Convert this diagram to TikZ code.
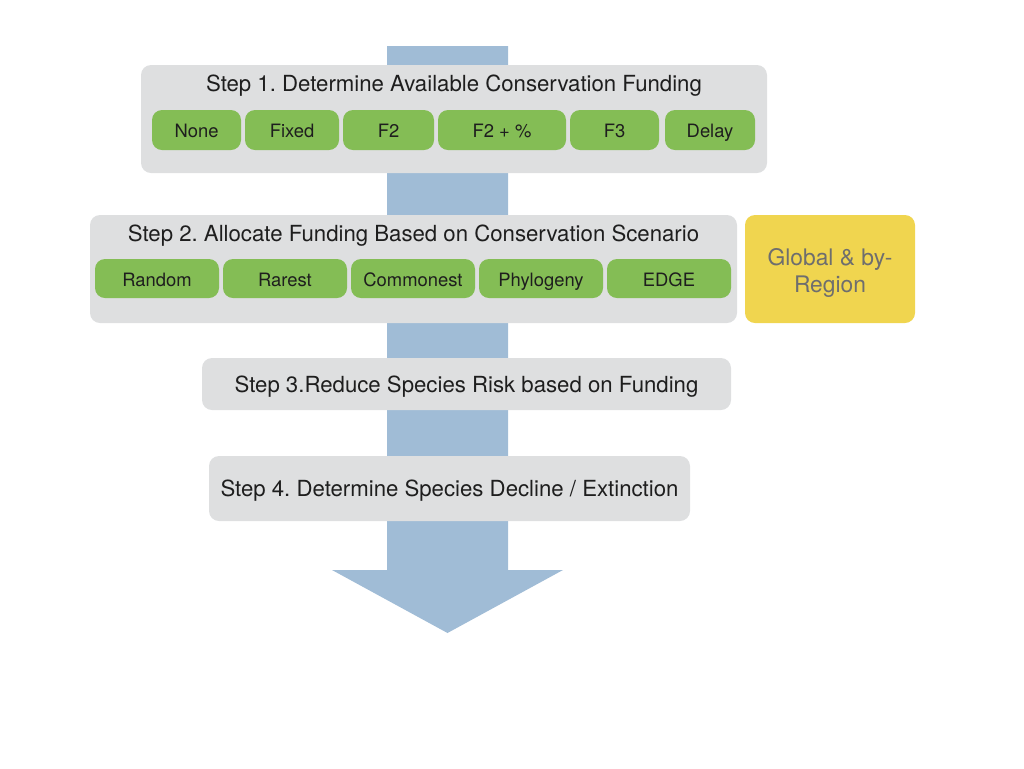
\documentclass[tikz,border=0pt]{standalone}
\usepackage{fontspec}
\setmainfont{TeX Gyre Heros}
\usepackage{tikz}
\usetikzlibrary{calc}
\frenchspacing

\definecolor{boxgray}{HTML}{DEDFE0}
\definecolor{pillgreen}{HTML}{84BD55}
\definecolor{flowblue}{HTML}{A0BCD6}
\definecolor{scopeyellow}{HTML}{F0D54F}
\definecolor{textdark}{HTML}{1E1E1E}
\definecolor{textgray}{HTML}{6E6E6E}

\begin{document}
\begin{tikzpicture}[x=0.5pt,y=-0.5pt,
	stepbox/.style={fill=boxgray,rounded corners=5pt,inner sep=0pt},
	steptitle/.style={font=\fontsize{11.1}{12}\selectfont,text=textdark,inner sep=0pt,
		text height=10.5pt,text depth=2.4pt},
	pill/.style={fill=pillgreen,rounded corners=5pt,inner sep=0pt,minimum height=20pt,
		font=\fontsize{9.2}{10}\selectfont,text=textdark,text height=9.6pt,text depth=2pt}]
	\useasboundingbox (0,0) rectangle (1024,768);
	% big flow arrow behind the steps
	\fill[flowblue] (387,46) -- (508,46) -- (508,570) -- (563,570) -- (447.5,633)
		-- (332,570) -- (387,570) -- cycle;
	% step 1
	\node (step1) [stepbox,minimum width=313pt,minimum height=54pt] at (454,119) {};
	\node (step1title) [steptitle] at (454,83) {Step 1. Determine Available Conservation Funding};
	\node (none) [pill,minimum width=44.5pt] at (196.5,130) {None};
	\node (fixed) [pill,minimum width=47pt] at (292,130) {Fixed};
	\node (ftwo) [pill,minimum width=45.5pt] at (388.5,130) {F2};
	\node (ftwopct) [pill,minimum width=64pt] at (502,130) {F2 + \%};
	\node (fthree) [pill,minimum width=44.5pt] at (614.5,130) {F3};
	\node (delay) [pill,minimum width=45pt] at (710,130) {Delay};
	% step 2
	\node (step2) [stepbox,minimum width=323.5pt,minimum height=54pt] at (413.5,269) {};
	\node (step2title) [steptitle] at (413.5,233) {Step 2. Allocate Funding Based on Conservation Scenario};
	\node (random) [pill,minimum width=62pt,minimum height=19.5pt] at (157,278.5) {Random};
	\node (rarest) [pill,minimum width=62pt,minimum height=19.5pt] at (285,278.5) {Rarest};
	\node (commonest) [pill,minimum width=62pt,minimum height=19.5pt] at (413,278.5) {Commonest};
	\node (phylogeny) [pill,minimum width=62pt,minimum height=19.5pt] at (541,278.5) {Phylogeny};
	\node (edge) [pill,minimum width=62pt,minimum height=19.5pt] at (669,278.5) {EDGE};
	\node (scope) [stepbox,fill=scopeyellow,minimum width=85pt,minimum height=54pt] at (830,269) {};
	\node (scopetext) [align=center,text=textgray,inner sep=0pt,
		font=\fontsize{11.4}{13.5}\selectfont] at (830,273) {Global \& by-\\Region};
	% steps 3 and 4
	\node (step3) [stepbox,steptitle,minimum width=264.5pt,minimum height=26pt] at (466.5,384)
		{Step 3.Reduce Species Risk based on Funding};
	\node (step4) [stepbox,steptitle,minimum width=240.5pt,minimum height=32.5pt] at (449.5,488.5)
		{Step 4. Determine Species Decline / Extinction};
\end{tikzpicture}
\end{document}
